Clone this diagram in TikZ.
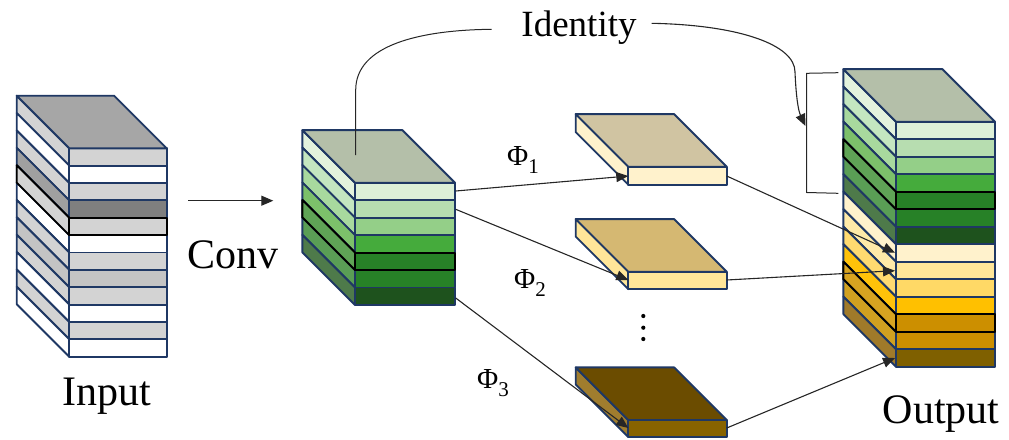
\documentclass[tikz,border=0pt]{standalone}
\usepackage{fontspec}
\setmainfont{Liberation Serif}
\usetikzlibrary{arrows.meta}
\definecolor{navy}{HTML}{1F3864}
\definecolor{LG}{HTML}{D3D3D3}
\definecolor{MG}{HTML}{C4C4C4}
\definecolor{DG}{HTML}{7F7F7F}
\definecolor{DGs}{HTML}{A0A0A0}
\definecolor{topgray}{HTML}{A6A6A6}
\definecolor{topgreen}{HTML}{B4BFA9}
\definecolor{Ga}{HTML}{DDF0D8}\definecolor{Gas}{HTML}{E3F2DD}
\definecolor{Gb}{HTML}{B7DDB0}\definecolor{Gbs}{HTML}{C4E6C0}
\definecolor{Gc}{HTML}{94CF88}\definecolor{Gcs}{HTML}{A8D99E}
\definecolor{Gd}{HTML}{45AB3C}\definecolor{Gds}{HTML}{7CC06A}
\definecolor{Ge}{HTML}{278127}\definecolor{Ges}{HTML}{5FA356}
\definecolor{Gf}{HTML}{278127}\definecolor{Gfs}{HTML}{5A9E55}
\definecolor{Gg}{HTML}{1E521D}\definecolor{Ggs}{HTML}{4E7A4A}
\definecolor{Ya}{HTML}{FFF2CC}\definecolor{Yas}{HTML}{FFF2CC}
\definecolor{Yb}{HTML}{FFE699}\definecolor{Ybs}{HTML}{FFEAA8}
\definecolor{Yc}{HTML}{FFD966}\definecolor{Ycs}{HTML}{FFDA70}
\definecolor{Yd}{HTML}{FFC000}\definecolor{Yds}{HTML}{FFC20A}
\definecolor{Ye}{HTML}{CC8F00}\definecolor{Yes}{HTML}{D8A421}
\definecolor{Yf}{HTML}{CC8F00}\definecolor{Yfs}{HTML}{D0A020}
\definecolor{Yg}{HTML}{7F6000}\definecolor{Ygs}{HTML}{A07A2A}
\definecolor{slabAtop}{HTML}{D0C4A2}
\definecolor{slabBtop}{HTML}{D5B872}
\definecolor{slabCtop}{HTML}{6B4C00}
\definecolor{slabCfront}{HTML}{876300}
\definecolor{slabCside}{HTML}{A07D2E}
\def\dpx{52.6}
\def\dpy{52.6}
\newcommand\lyr[6]{%
  \filldraw[box,fill=#6] ({#1},{#2}) -- ({#1-\dpx},{#2-\dpy}) -- ({#1-\dpx},{#2+#4-\dpy}) -- ({#1},{#2+#4}) -- cycle;
  \filldraw[box,fill=#5] ({#1},{#2}) rectangle ({#1+#3},{#2+#4});}
\newcommand\topface[4]{%
  \filldraw[box,fill=#4] ({#1},{#2}) -- ({#1-\dpx},{#2-\dpy}) -- ({#1+#3-\dpx},{#2-\dpy}) -- ({#1+#3},{#2}) -- cycle;}
\newcommand\phisub[1]{Φ\raisebox{-0.3em}{\fontsize{21}{24}\selectfont #1}}
\tikzset{
  box/.style={draw=navy,line width=1.9pt,line join=round},
  conn/.style={draw=black!85,line width=1.1pt,-{Triangle[length=12pt,width=10pt]}},
  thin/.style={draw=black!85,line width=1pt},
  lbl/.style={inner sep=0pt,anchor=base,font=\fontsize{42}{48}\selectfont},
  phi/.style={inner sep=0pt,anchor=base west,font=\fontsize{29}{34}\selectfont}
}
\begin{document}
\begin{tikzpicture}[x=1pt,y=-1pt]
\useasboundingbox (0,0) rectangle (1009,439);
% ---------- Input stack ----------
\foreach \f/\s [count=\i from 0] in {LG/LG,white/white,LG/LG,DG/DGs,LG/LG,white/white,LG/LG,MG/MG,LG/LG,white/white,LG/LG,white/white}{
  \lyr{69.3}{148.3+\i*17.37}{97.4}{17.37}{\f}{\s}}
\begin{scope}[box/.append style={draw=black}]
  \lyr{69.3}{148.3+4*17.37}{97.4}{17.37}{LG}{LG}
\end{scope}
\topface{69.3}{148.3}{97.4}{topgray}
% ---------- Conv stack ----------
\foreach \f/\s [count=\i from 0] in {Ga/Gas,Gb/Gbs,Gc/Gcs,Gd/Gds,Ge/Ges,Gf/Gfs,Gg/Ggs}{
  \lyr{355}{182.7+\i*17.47}{100}{17.47}{\f}{\s}}
\begin{scope}[box/.append style={draw=black}]
  \lyr{355}{182.7+4*17.47}{100}{17.47}{Ge}{Ges}
\end{scope}
\topface{355}{182.7}{100}{topgreen}
% ---------- Slabs ----------
\lyr{628.3}{166.7}{98.4}{18}{Ya}{Ya}
\topface{628.3}{166.7}{98.4}{slabAtop}
\lyr{628.3}{271.7}{98.4}{17.5}{Yb}{Yb}
\topface{628.3}{271.7}{98.4}{slabBtop}
\lyr{628.3}{420}{98.4}{17}{slabCfront}{slabCside}
\topface{628.3}{420}{98.4}{slabCtop}
% ---------- Output stack ----------
\foreach \f/\s [count=\i from 0] in {Ga/Gas,Gb/Gbs,Gc/Gcs,Gd/Gds,Ge/Ges,Gf/Gfs,Gg/Ggs,Ya/Yas,Yb/Ybs,Yc/Ycs,Yd/Yds,Ye/Yes,Yf/Yfs,Yg/Ygs}{
  \lyr{896}{121.7+\i*17.5}{99}{17.5}{\f}{\s}}
\begin{scope}[box/.append style={draw=black}]
  \lyr{896}{121.7+4*17.5}{99}{17.5}{Ge}{Ges}
  \lyr{896}{121.7+11*17.5}{99}{17.5}{Ye}{Yes}
\end{scope}
\topface{896}{121.7}{99}{topgreen}
% ---------- Labels ----------
\node[lbl] (input) at (107,405) {Input};
\node[lbl] (conv) at (233,268) {Conv};
\node[lbl] (output) at (941,423) {Output};
\node[lbl,font=\fontsize{37}{44}\selectfont] (ident) at (579,36.7) {Identity};
\node[phi] (p1) at (507,165) {\phisub{1}};
\node[phi] (p2) at (514,288) {\phisub{2}};
\node[phi] (p3) at (477,388) {\phisub{3}};
% ---------- Connector anchors ----------
\coordinate (inR) at (188,200.7);
\coordinate (convIn) at (273.3,200.7);
\coordinate (c1) at (455.7,191);
\coordinate (c2) at (455.7,209.3);
\coordinate (c3) at (455.7,298);
\coordinate (s1L) at (628.3,176);
\coordinate (s2L) at (628.3,280);
\coordinate (s3L) at (628.3,428);
\coordinate (s1R) at (726.7,176);
\coordinate (s2R) at (726.7,280);
\coordinate (s3R) at (726.7,428);
\coordinate (o1) at (895,252.7);
\coordinate (o2) at (895,270.7);
\coordinate (o3) at (895,358);
\coordinate (convTop) at (355.7,155);
\coordinate (idL) at (491.7,29.3);
\coordinate (idR) at (651.7,23.3);
\coordinate (brk) at (805.5,126);
% ---------- Connectors ----------
\draw[conn] (inR) -- (convIn);
\draw[conn] (c1) -- (s1L);
\draw[conn] (c2) -- (s2L);
\draw[conn] (c3) -- (s3L);
\draw[conn] (s1R) -- (o1);
\draw[conn] (s2R) -- (o2);
\draw[conn] (s3R) -- (o3);
\draw[thin] (convTop) -- (355.7,90) .. controls (355.7,45) and (420,30) .. (idL);
\draw[conn] (idR) .. controls (740,25) and (795,45) .. (795,72) .. controls (796,95) and (798,110) .. (brk);
\draw[thin] (838.3,72.7) -- (806.7,73.3) -- (806.7,192.5) -- (838.3,193.3);
% ---------- Dots ----------
\fill (643.3,316) circle (2.1);
\fill (643.3,327.7) circle (2.1);
\fill (643.3,339) circle (2.1);
\end{tikzpicture}
\end{document}
